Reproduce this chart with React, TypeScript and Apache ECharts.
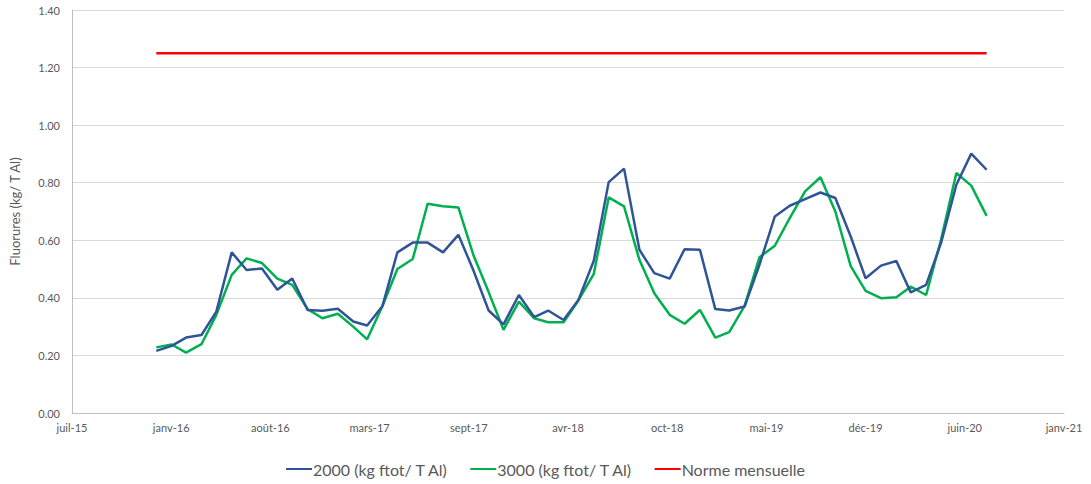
import React, { useEffect, useRef } from "react";
import * as echarts from "echarts";

const MONTHS: string[] = [
  "2016-01", "2016-02", "2016-03", "2016-04", "2016-05", "2016-06", "2016-07", "2016-08", "2016-09", "2016-10", "2016-11", "2016-12",
  "2017-01", "2017-02", "2017-03", "2017-04", "2017-05", "2017-06", "2017-07", "2017-08", "2017-09", "2017-10", "2017-11", "2017-12",
  "2018-01", "2018-02", "2018-03", "2018-04", "2018-05", "2018-06", "2018-07", "2018-08", "2018-09", "2018-10", "2018-11", "2018-12",
  "2019-01", "2019-02", "2019-03", "2019-04", "2019-05", "2019-06", "2019-07", "2019-08", "2019-09", "2019-10", "2019-11", "2019-12",
  "2020-01", "2020-02", "2020-03", "2020-04", "2020-05", "2020-06", "2020-07", "2020-08",
];

const SERIES_2000: number[] = [
  0.216, 0.233, 0.262, 0.271, 0.352, 0.558, 0.497, 0.502, 0.428, 0.467, 0.358, 0.355,
  0.362, 0.318, 0.304, 0.372, 0.558, 0.592, 0.592, 0.558, 0.619, 0.497, 0.356, 0.308,
  0.410, 0.333, 0.356, 0.323, 0.393, 0.529, 0.802, 0.849, 0.567, 0.486, 0.467, 0.569,
  0.567, 0.361, 0.356, 0.370, 0.515, 0.683, 0.720, 0.743, 0.766, 0.747, 0.613, 0.468,
  0.512, 0.528, 0.419, 0.445, 0.590, 0.793, 0.901, 0.845,
];

const SERIES_3000: number[] = [
  0.228, 0.238, 0.210, 0.239, 0.341, 0.480, 0.537, 0.521, 0.467, 0.445, 0.361, 0.329,
  0.345, 0.300, 0.256, 0.372, 0.500, 0.535, 0.727, 0.718, 0.714, 0.550, 0.420, 0.289,
  0.387, 0.329, 0.315, 0.315, 0.391, 0.483, 0.749, 0.718, 0.532, 0.416, 0.341, 0.310,
  0.358, 0.262, 0.281, 0.372, 0.541, 0.581, 0.677, 0.770, 0.819, 0.700, 0.510, 0.424,
  0.399, 0.402, 0.439, 0.410, 0.602, 0.834, 0.790, 0.685,
];

const NORME_MENSUELLE = 1.25;

const SERIES_NAMES = ["2000 (kg ftot/ T Al)", "3000 (kg ftot/ T Al)", "Norme mensuelle"];
const COLORS = ["#2F5597", "#00B050", "#FF0000"];

const Y_TICKS = [0, 0.2, 0.4, 0.6, 0.8, 1.0, 1.2, 1.4];
const FR_MONTHS = ["janv", "févr", "mars", "avr", "mai", "juin", "juil", "août", "sept", "oct", "nov", "déc"];

const DAY = 86400000;
const X_MIN = Date.UTC(2015, 6, 15);
const X_STEP_DAYS = 200;
const X_TICK_COUNT = 10;

function toTs(m: string): number {
  const [y, mo] = m.split("-").map(Number);
  return Date.UTC(y, mo - 1, 1);
}

export default function App() {
  const ref = useRef<HTMLDivElement>(null);

  useEffect(() => {
    if (!ref.current) return;
    const chart = echarts.init(ref.current, null, { renderer: "svg" });
    const font = "Lato, 'Open Sans', sans-serif";
    const s2000 = MONTHS.map((m, i) => [toTs(m), SERIES_2000[i]]);
    const s3000 = MONTHS.map((m, i) => [toTs(m), SERIES_3000[i]]);
    const norme = MONTHS.map((m) => [toTs(m), NORME_MENSUELLE]);

    chart.setOption({
      animation: false,
      backgroundColor: "#ffffff",
      textStyle: { fontFamily: font },
      grid: { left: 70, right: 27, top: 10, bottom: 71, containLabel: false },
      legend: {
        top: 456,
        left: "center",
        itemWidth: 26,
        itemHeight: 2,
        itemGap: 22,
        icon: "rect",
        textStyle: { fontFamily: font, fontSize: 16, color: "#595959", padding: [0, 0, 0, -4] },
        data: SERIES_NAMES,
      },
      xAxis: {
        type: "value",
        min: X_MIN,
        max: X_MIN + X_STEP_DAYS * X_TICK_COUNT * DAY,
        interval: X_STEP_DAYS * DAY,
        axisLine: { show: true, lineStyle: { color: "#bfbfbf", width: 1 } },
        axisTick: { show: false },
        splitLine: { show: false },
        axisLabel: {
          color: "#595959",
          fontSize: 11,
          fontFamily: font,
          margin: 9,
          formatter: (v: number) => {
            const d = new Date(v);
            return FR_MONTHS[d.getUTCMonth()] + "-" + String(d.getUTCFullYear() % 100).padStart(2, "0");
          },
        },
      },
      yAxis: {
        type: "value",
        min: Y_TICKS[0],
        max: Y_TICKS[Y_TICKS.length - 1],
        interval: 0.2,
        name: "Fluorures (kg/ T Al)",
        nameLocation: "middle",
        nameGap: 51,
        nameTextStyle: { color: "#595959", fontSize: 13, fontFamily: font },
        axisLine: { show: true, lineStyle: { color: "#bfbfbf", width: 1 } },
        axisTick: { show: false },
        splitLine: { show: true, lineStyle: { color: "#d9d9d9", width: 1 } },
        axisLabel: {
          color: "#595959",
          fontSize: 11,
          fontFamily: font,
          margin: 12,
          formatter: (v: number) => v.toFixed(2),
        },
      },
      series: [
        {
          name: SERIES_NAMES[0],
          type: "line",
          data: s2000,
          showSymbol: false,
          symbol: "none",
          lineStyle: { color: COLORS[0], width: 2.5 },
          itemStyle: { color: COLORS[0] },
          z: 3,
        },
        {
          name: SERIES_NAMES[1],
          type: "line",
          data: s3000,
          showSymbol: false,
          symbol: "none",
          lineStyle: { color: COLORS[1], width: 2.5 },
          itemStyle: { color: COLORS[1] },
          z: 2,
        },
        {
          name: SERIES_NAMES[2],
          type: "line",
          data: norme,
          showSymbol: false,
          symbol: "none",
          lineStyle: { color: COLORS[2], width: 2.5 },
          itemStyle: { color: COLORS[2] },
          z: 4,
        },
      ],
    });
    return () => chart.dispose();
  }, []);

  return (
    <div
      ref={ref}
      style={{ position: "fixed", left: 0, top: 0, width: 1091, height: 484, background: "#fff" }}
    />
  );
}
